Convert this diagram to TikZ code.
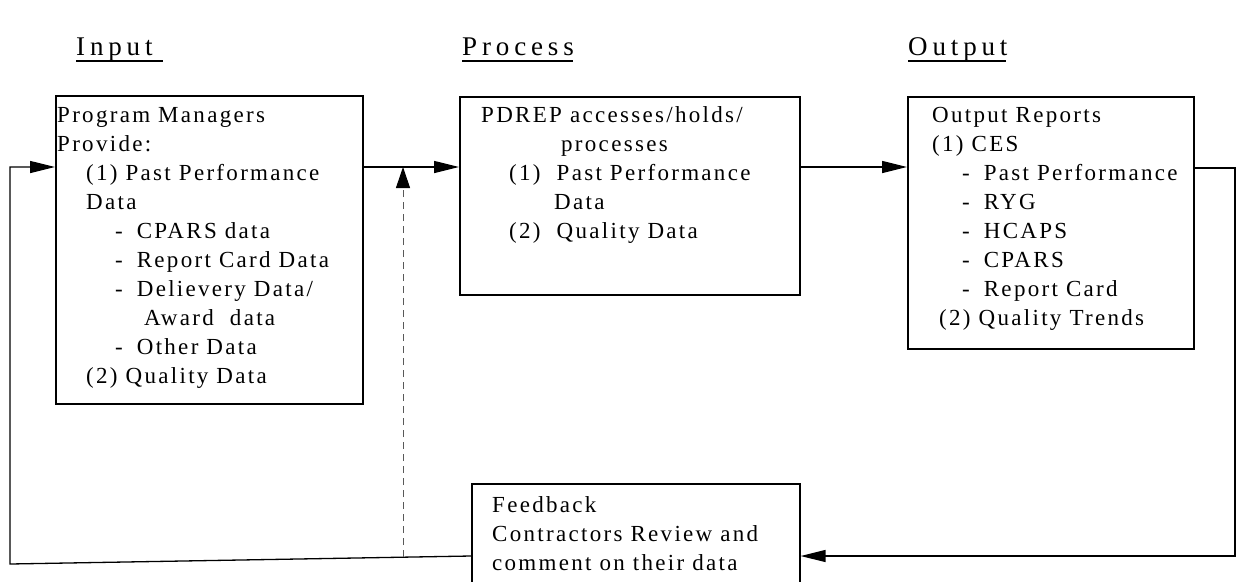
\documentclass[tikz,border=0pt]{standalone}
\usepackage{fontspec}
\setmainfont{Liberation Serif}[LetterSpace=10]
\newfontfamily\headfont{Liberation Serif}[LetterSpace=18]
\usetikzlibrary{arrows.meta,calc}
\begin{document}
\begin{tikzpicture}[x=1pt,y=-1pt,
  box/.style={draw, line width=1.6pt, anchor=north west, inner sep=0pt},
  txt/.style={anchor=base west, inner sep=0pt, font=\fontsize{23}{29}\selectfont},
  head/.style={anchor=base west, inner sep=0pt, font=\headfont\fontsize{27}{29}\selectfont},
  uline/.style={line width=1.6pt},
  conn/.style={line width=1.3pt},
  tip/.style={-{Triangle[length=25pt,width=12pt]}},
  fbline/.style={line width=1pt, draw=black!65, dash pattern=on 7pt off 5pt,
    -{Triangle[length=21pt,width=14pt,color=black]}}]
\clip (0,0) rectangle (1236,581);
\fill[white] (0,0) rectangle (1236,581);

% headings
\node[head] (hin) at (76,55) {Input};
\node[head] (hpr) at (462,55) {Process};
\node[head] (hout) at (908,55) {Output};
\draw[uline] ($(hin.base west)+(0,6)$) -- ++(87,0);
\draw[uline] ($(hpr.base west)+(0,6)$) -- ++(111,0);
\draw[uline] ($(hout.base west)+(0,6)$) -- ++(98,0);

% boxes
\node[box, minimum width=307pt, minimum height=308pt] (L) at (55,95) {};
\node[box, minimum width=340pt, minimum height=198pt] (M) at (459,96) {};
\node[box, minimum width=286pt, minimum height=252pt] (R) at (907,96) {};
\node[box, minimum width=328pt, minimum height=130pt] (F) at (471,483) {};

% left box text
\node[txt] (l1) at (57,122) {Program Managers};
\node[txt] (l2) at (57,151) {Provide:};
\node[txt] (l3) at (86,180) {(1) Past Performance};
\node[txt] (l4) at (86,209) {Data};
\node[txt] (l5) at (115,238) {-\hspace{14pt}CPARS data};
\node[txt] (l6) at (115,267) {-\hspace{14pt}Report Card Data};
\node[txt] (l7) at (115,296) {-\hspace{14pt}Delievery Data/};
\node[txt] (l8) at (144,325) {Award\ \ data};
\node[txt] (l9) at (115,354) {-\hspace{14pt}Other Data};
\node[txt] (l10) at (86,383) {(2) Quality Data};

% middle box text
\node[txt] (m1) at (481,122) {PDREP accesses/holds/};
\node[txt] (m2) at (561,151) {processes};
\node[txt] (m3) at (509,180) {(1)\ \ Past Performance};
\node[txt] (m4) at (554,209) {Data};
\node[txt] (m5) at (509,238) {(2)\ \ Quality Data};

% right box text
\node[txt] (r1) at (932,122) {Output Reports};
\node[txt] (r2) at (932,151) {(1) CES};
\node[txt] (r3) at (962,180) {-\hspace{14pt}Past Performance};
\node[txt] (r4) at (962,209) {-\hspace{14pt}RYG};
\node[txt] (r5) at (962,238) {-\hspace{14pt}HCAPS};
\node[txt] (r6) at (962,267) {-\hspace{14pt}CPARS};
\node[txt] (r7) at (962,296) {-\hspace{14pt}Report Card};
\node[txt] (r8) at (939,325) {(2) Quality Trends};

% feedback box text
\node[txt] (f1) at (492,512) {Feedback};
\node[txt] (f2) at (492,541) {Contractors Review and};
\node[txt] (f3) at (492,570) {comment on their data};

% helper coordinates
\coordinate (row) at (0,167);
\coordinate (outrow) at (0,168);
\coordinate (fbrow) at (0,556);
\coordinate (bl) at (10,564);
\coordinate (br) at (1235,556);
\coordinate (tap) at (403,167);
\coordinate (tapfoot) at (403,557);

% connectors
\draw[conn, tip] (L.east |- row) -- (M.west |- row);
\draw[conn, tip] (M.east |- row) -- (R.west |- row);
\draw[conn, tip] (R.east |- outrow) -- (br |- outrow) -- (br) -- (F.east |- br);
\draw[conn, tip] (F.west |- fbrow) -- (bl) -- (bl |- row) -- (L.west |- row);
\draw[fbline] (tapfoot) -- (tap);
\end{tikzpicture}
\end{document}
